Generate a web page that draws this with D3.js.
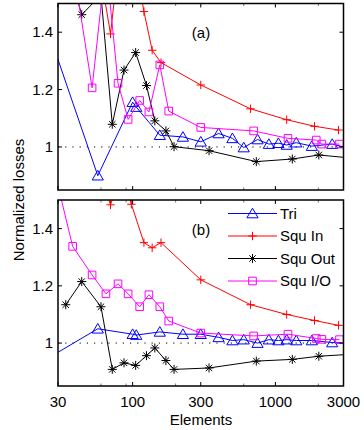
<!DOCTYPE html>
<html>
<head>
<meta charset="utf-8">
<script src="https://cdn.jsdelivr.net/npm/d3@7/dist/d3.min.js"></script>
<style>
  html, body { margin: 0; padding: 0; background: #fff; }
  svg { display: block; font-family: "Liberation Sans", Arial, sans-serif; }
</style>
</head>
<body>
<svg id="chart" width="364" height="430"></svg>
<script>
// Element counts and normalized losses for each mesh type.
const triX   = [20, 57, 100, 106, 155, 225, 300, 400, 500, 600, 750, 900, 1050, 1200, 1400, 1800, 2500, 4000];
const triA   = [1.56, 0.900, 1.156, 1.139, 1.041, 1.035, 1.018, 1.047, 1.030, 0.998, 1.026, 1.010, 1.013, 1.007, 1.015, 1.003, 1.010, 0.985];
const triB   = [0.916, 1.050, 1.031, 1.028, 1.039, 1.031, 1.031, 1.020, 1.009, 1.012, 1.000, 1.012, 1.009, 1.012, 1.009, 1.009, 1.002, 0.997];

const sqInX  = [57, 70, 84, 98, 120, 137, 158, 300, 670, 1200, 1880, 2770];
const sqInA  = [1.66, 1.394, 1.75, 1.72, 1.472, 1.337, 1.294, 1.216, 1.133, 1.095, 1.072, 1.059];
const sqInB  = [1.62, 1.483, 1.60, 1.485, 1.351, 1.333, 1.351, 1.221, 1.134, 1.100, 1.079, 1.062];

const sqOutX = [34, 44, 60, 72, 87, 105, 125, 143, 171, 195, 343, 735, 1314, 2015, 4000];
const sqOutA = [1.65, 1.461, 1.53, 1.079, 1.268, 1.329, 1.214, 1.091, 1.056, 1.001, 0.987, 0.949, 0.958, 0.972, 0.958];
const sqOutB = [1.134, 1.215, 1.127, 0.908, 0.931, 0.922, 0.956, 0.983, 0.939, 0.908, 0.913, 0.937, 0.943, 0.954, 0.963];

const sqIOX  = [30, 38, 52, 65, 79, 93, 112, 130, 155, 179, 300, 704, 1225, 1933, 2116, 2811];
const sqIOA  = [1.80, 1.64, 1.206, 1.65, 1.222, 1.096, 1.162, 1.122, 1.286, 1.125, 1.068, 1.056, 1.030, 1.024, 1.010, 1.010];
const sqIOB  = [1.55, 1.338, 1.238, 1.172, 1.207, 1.172, 1.127, 1.169, 1.127, 1.077, 1.035, 1.025, 1.031, 1.016, 1.013, 1.012];

const seriesNames = ["Tri", "Squ In", "Squ Out", "Squ I/O"];
const xTicks = [30, 100, 300, 1000, 3000];
const xMinorTicks = [60, 90, 200, 600, 2000];
const yTicks = [1, 1.2, 1.4];
const panelLabels = ["(a)", "(b)"];

const svg = d3.select("#chart");
const FONT = 15;

const x = d3.scaleLog().domain([30, 3000]).range([58, 343.5]);
const panels = [
  { label: panelLabels[0], y: d3.scaleLinear().domain([0.85, 1.5]).range([190, 3.5]),
    data: [triA, sqInA, sqOutA, sqIOA] },
  { label: panelLabels[1], y: d3.scaleLinear().domain([0.85, 1.5]).range([386, 200]),
    data: [triB, sqInB, sqOutB, sqIOB] }
];

// Marker shapes (MATLAB-like)
const markers = {
  tri: "M0,-5.3L5.6,4.3L-5.6,4.3Z",
  plus: "M-4.2,0H4.2M0,-4.2V4.2",
  star: "M-4.5,0H4.5M0,-4.5V4.5M-3.2,-3.2L3.2,3.2M-3.2,3.2L3.2,-3.2",
  square: "M-3.8,-3.8h7.6v7.6h-7.6Z"
};
const styles = [
  { color: "#0000ff", marker: markers.tri,    xs: triX },
  { color: "#ff0000", marker: markers.plus,   xs: sqInX },
  { color: "#000000", marker: markers.star,   xs: sqOutX },
  { color: "#ff00ff", marker: markers.square, xs: sqIOX }
];

const defs = svg.append("defs");

panels.forEach((p, pi) => {
  const [x0, x1] = x.range();
  const [yb, yt] = p.y.range();
  const clipId = "clip" + pi;
  defs.append("clipPath").attr("id", clipId)
    .append("rect").attr("x", x0).attr("y", yt).attr("width", x1 - x0).attr("height", yb - yt);

  const g = svg.append("g");

  // reference line at 1
  g.append("line")
    .attr("x1", x0).attr("x2", x1)
    .attr("y1", p.y(1)).attr("y2", p.y(1))
    .attr("stroke", "#000").attr("stroke-width", 1)
    .attr("stroke-dasharray", "1.2,6");

  const plot = g.append("g").attr("clip-path", `url(#${clipId})`);
  const line = d3.line().x(d => x(d[0])).y(d => p.y(d[1]));

  styles.forEach((s, si) => {
    const pts = s.xs.map((xv, i) => [xv, p.data[si][i]]);
    plot.append("path")
      .attr("d", line(pts))
      .attr("fill", "none")
      .attr("stroke", s.color)
      .attr("stroke-width", 1);
    plot.selectAll(null).data(pts).enter().append("path")
      .attr("d", s.marker)
      .attr("transform", d => `translate(${x(d[0])},${p.y(d[1])})`)
      .attr("fill", "none")
      .attr("stroke", s.color)
      .attr("stroke-width", 1);
  });

  // ticks (inward on all four sides)
  const tk = g.append("g").attr("stroke", "#000").attr("stroke-width", 1);
  xTicks.forEach(t => {
    tk.append("line").attr("x1", x(t)).attr("x2", x(t)).attr("y1", yb).attr("y2", yb - 4);
    tk.append("line").attr("x1", x(t)).attr("x2", x(t)).attr("y1", yt).attr("y2", yt + 4);
  });
  xMinorTicks.forEach(t => {
    tk.append("line").attr("x1", x(t)).attr("x2", x(t)).attr("y1", yb).attr("y2", yb - 2.5).attr("stroke", "#777");
    tk.append("line").attr("x1", x(t)).attr("x2", x(t)).attr("y1", yt).attr("y2", yt + 2.5).attr("stroke", "#777");
  });
  yTicks.forEach(t => {
    tk.append("line").attr("x1", x0).attr("x2", x0 + 4).attr("y1", p.y(t)).attr("y2", p.y(t));
    tk.append("line").attr("x1", x1).attr("x2", x1 - 4).attr("y1", p.y(t)).attr("y2", p.y(t));
    g.append("text")
      .attr("x", x0 - 5).attr("y", p.y(t) + 5.3)
      .attr("text-anchor", "end")
      .attr("font-size", FONT)
      .text(d3.format("~g")(t));
  });

  // frame
  g.append("rect")
    .attr("x", x0).attr("y", yt).attr("width", x1 - x0).attr("height", yb - yt)
    .attr("fill", "none").attr("stroke", "#000").attr("stroke-width", 1.5);

  g.append("text")
    .attr("x", 201).attr("y", yt + 34.5)
    .attr("text-anchor", "middle")
    .attr("font-size", FONT)
    .text(p.label);

  if (pi === 1) {
    xTicks.forEach(t => {
      g.append("text")
        .attr("x", x(t)).attr("y", 407)
        .attr("text-anchor", "middle")
        .attr("font-size", FONT)
        .text(t);
    });

    // legend
    const lg = g.append("g");
    const rowY = [213.5, 236, 258.5, 281];
    styles.forEach((s, si) => {
      lg.append("line")
        .attr("x1", 228).attr("x2", 277)
        .attr("y1", rowY[si]).attr("y2", rowY[si])
        .attr("stroke", s.color).attr("stroke-width", 1);
      lg.append("path")
        .attr("d", s.marker)
        .attr("transform", `translate(252.5,${rowY[si]})`)
        .attr("fill", "none").attr("stroke", s.color).attr("stroke-width", 1);
      lg.append("text")
        .attr("x", 280).attr("y", rowY[si] + 5.3)
        .attr("font-size", FONT)
        .text(seriesNames[si]);
    });
  }
});

svg.append("text")
  .attr("x", 201).attr("y", 424.5)
  .attr("text-anchor", "middle")
  .attr("font-size", FONT)
  .text("Elements");

svg.append("text")
  .attr("transform", "translate(24,200) rotate(-90)")
  .attr("text-anchor", "middle")
  .attr("font-size", FONT)
  .text("Normalized losses");
</script>
</body>
</html>
